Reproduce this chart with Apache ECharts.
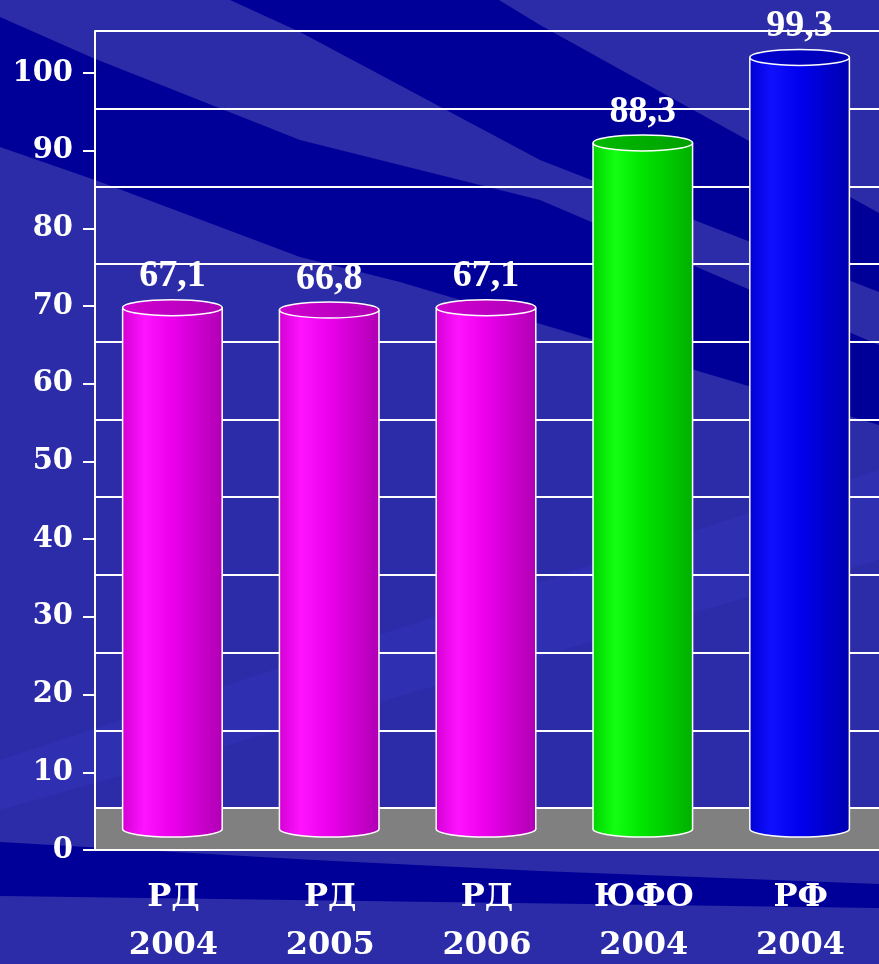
<!DOCTYPE html>
<html><head><meta charset="utf-8">
<script src="https://cdn.jsdelivr.net/npm/echarts@6/dist/echarts.min.js"></script>
<style>html,body{margin:0;padding:0;background:#2C2CA8}#c{width:879px;height:964px}</style>
</head><body><div id="c"></div>
<script>
// ---- data ----
const categories = ['РД', 'РД', 'РД', 'ЮФО', 'РФ'];
const years = ['2004', '2005', '2006', '2004', '2004'];
const values = [67.1, 66.8, 67.1, 88.3, 99.3];
const yMin = 0, yMax = 100, yStep = 10;

// ---- styles ----
const magenta = { body: ['#D400D4', '#FF14FF', '#EC00EC', '#B000B4'], top: ['#D000D0', '#B000B6'] };
const green = { body: ['#00D400', '#12FF12', '#00E400', '#00B000'], top: ['#00BA00', '#00A000'] };
const blue = { body: ['#0000D4', '#1010FF', '#0000EE', '#0000B0'], top: ['#0000D0', '#0000B4'] };
const barStyles = [magenta, magenta, magenta, green, blue];

const LIGHT = '#2C2CA8', DARK = '#000098';
const plotLeft = 95, plotW = 784, plotH = 777;
const frontTop = 73, backTop = 31, midTop = 52;

function grad(stops) {
  const n = stops.length;
  const pos = n === 4 ? [0, 0.22, 0.5, 1] : [0, 1];
  return new echarts.graphic.LinearGradient(0, 0, 1, 0, stops.map((c, i) => ({ offset: pos[i], color: c })));
}

const chart = echarts.init(document.getElementById('c'), null, { renderer: 'canvas' });

const bgBands = [
  [[230, 0], [499, 0], [540, 25], [879, 213], [879, 292], [540, 160], [300, 32]],
  [[0, 17], [93, 58], [300, 140], [540, 200], [879, 345], [879, 425], [400, 282], [300, 257], [95, 180], [0, 147]],
  [[0, 842], [314, 860], [540, 871], [879, 884], [879, 908], [0, 896]]
];

const graphics = bgBands.map(pts => ({
  type: 'polygon', z: -5, silent: true,
  shape: { points: pts }, style: { fill: DARK }
}));
graphics.unshift({
  type: 'polygon', z: -6, silent: true,
  shape: { points: [[0, 760], [879, 470], [879, 560], [0, 810]] }, style: { fill: '#2F2FB2' }
});
graphics.push({
  type: 'rect', z: 1, silent: true,
  shape: { x: plotLeft + 1, y: backTop + plotH + 1, width: plotW, height: frontTop - backTop - 2 },
  style: { fill: '#808080' }
});

const labelFont = { color: '#fff', fontFamily: 'DejaVu Serif', fontWeight: 'bold' };

function renderBar(params, api) {
  const i = api.value(0);
  const v = api.value(1);
  const top = api.coord([i, v]);
  const base = api.coord([i, 0]);
  const w = api.size([1, 0])[0] * 0.635;
  const rx = w / 2, ry = 8;
  const cx = top[0] - 1;
  const st = barStyles[i];
  return {
    type: 'group',
    children: [
      { type: 'ellipse', shape: { cx: cx, cy: base[1], rx: rx, ry: ry },
        style: { fill: grad(st.body), stroke: '#fff', lineWidth: 1.5 } },
      { type: 'rect', shape: { x: cx - rx, y: top[1], width: w, height: base[1] - top[1] },
        style: { fill: grad(st.body) } },
      { type: 'line', shape: { x1: cx - rx, y1: top[1], x2: cx - rx, y2: base[1] },
        style: { stroke: '#fff', lineWidth: 1.5 } },
      { type: 'line', shape: { x1: cx + rx, y1: top[1], x2: cx + rx, y2: base[1] },
        style: { stroke: '#fff', lineWidth: 1.5 } },
      { type: 'ellipse', shape: { cx: cx, cy: top[1], rx: rx, ry: ry },
        style: { fill: grad(st.top), stroke: '#fff', lineWidth: 1.5 } },
      { type: 'text', x: cx, y: top[1] - 31,
        style: { text: String(values[i]).replace('.', ','), fill: '#fff',
                 font: 'bold 38px "Liberation Serif"', textAlign: 'center', textVerticalAlign: 'middle' } }
    ]
  };
}

const gridBase = { left: plotLeft, width: plotW, height: plotH, containLabel: false, outerBoundsMode: 'none' };

const option = {
  backgroundColor: LIGHT,
  animation: false,
  graphic: graphics,
  grid: [
    Object.assign({ top: frontTop }, gridBase),
    Object.assign({ top: backTop }, gridBase),
    Object.assign({ top: midTop }, gridBase)
  ],
  xAxis: [
    { gridIndex: 0, type: 'category', data: categories.map((c, i) => c + '\n' + years[i]),
      axisLine: { lineStyle: { color: '#fff', width: 2 } },
      axisTick: { length: 12, lineStyle: { color: '#fff', width: 2 } },
      axisLabel: Object.assign({ fontSize: 32, lineHeight: 48, margin: 24, interval: 0 }, labelFont) },
    { gridIndex: 1, type: 'category', data: categories, show: false },
    { gridIndex: 2, type: 'category', data: categories, show: false }
  ],
  yAxis: [
    { gridIndex: 0, type: 'value', min: yMin, max: yMax, interval: yStep,
      axisLine: { show: true, lineStyle: { color: '#fff', width: 2 } },
      axisTick: { show: true, length: 12, lineStyle: { color: '#fff', width: 2 } },
      splitLine: { show: false },
      axisLabel: Object.assign({ fontSize: 29, margin: 22 }, labelFont) },
    { gridIndex: 1, type: 'value', min: yMin, max: yMax, interval: yStep,
      axisLine: { show: true, lineStyle: { color: '#fff', width: 2 } },
      axisTick: { show: false }, axisLabel: { show: false },
      splitLine: { show: true, lineStyle: { color: '#fff', width: 2 } } },
    { gridIndex: 2, type: 'value', min: yMin, max: yMax, show: false }
  ],
  series: [{
    type: 'custom', xAxisIndex: 2, yAxisIndex: 2, z: 5,
    data: values.map((v, i) => [i, v]),
    renderItem: renderBar
  }]
};
chart.setOption(option);
</script></body></html>
